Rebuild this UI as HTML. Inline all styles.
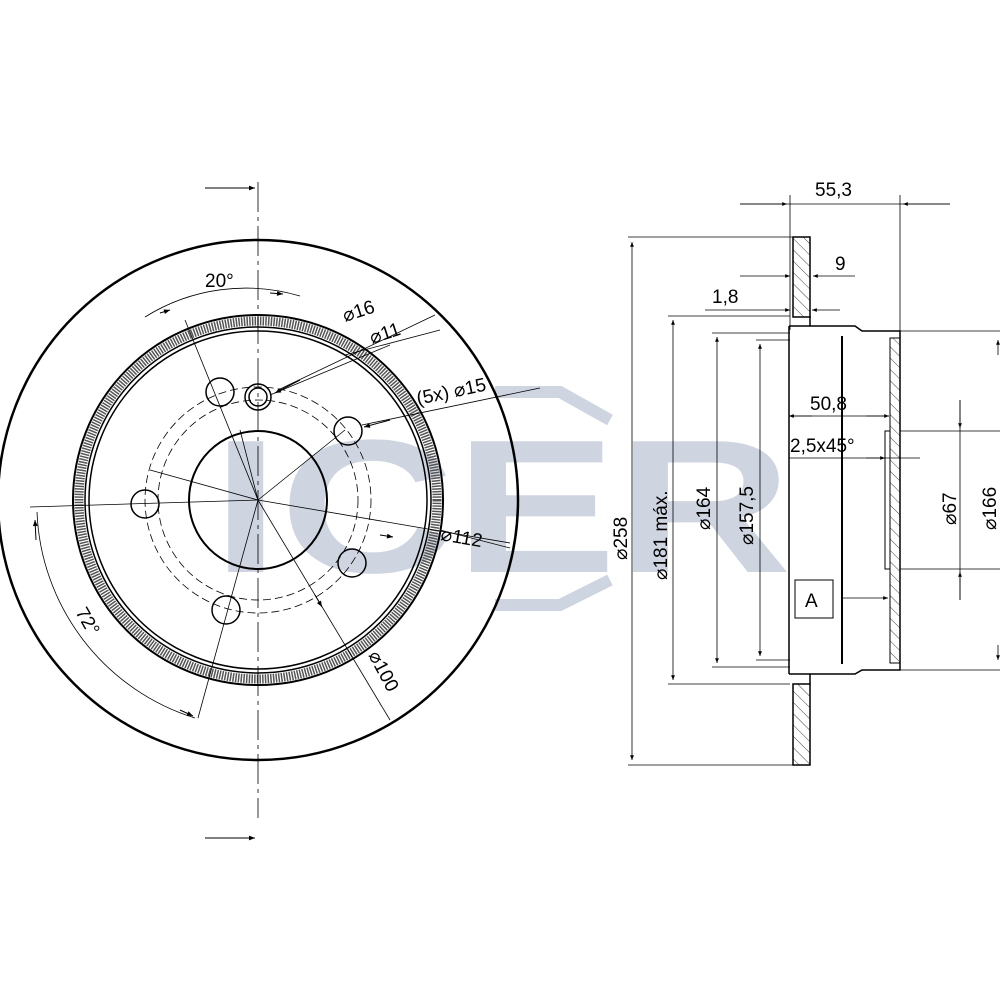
<!DOCTYPE html>
<html><head><style>html,body{margin:0;padding:0;background:#fff}svg{display:block}</style></head>
<body>
<svg width="1000" height="1000" viewBox="0 0 1000 1000" xmlns="http://www.w3.org/2000/svg" font-family="Liberation Sans, sans-serif">
<defs>
<marker id="a" viewBox="0 0 10 10" refX="10" refY="5" markerWidth="9" markerHeight="6" orient="auto-start-reverse"><path d="M0,1L10,5L0,9z" fill="#000"/></marker>
<pattern id="h" width="8" height="8" patternUnits="userSpaceOnUse" patternTransform="rotate(-45)"><line x1="0" y1="0" x2="0" y2="8" stroke="#444" stroke-width="1"/></pattern>
</defs>
<!-- watermark -->
<g fill="#cfd5e0">
<text x="212" y="572" font-size="190" font-weight="bold" textLength="580" lengthAdjust="spacingAndGlyphs">ICER</text>
</g>
<path d="M495,392 L560,392 L610,420 M495,605 L560,605 L610,580" stroke="#cfd5e0" stroke-width="12" fill="none"/>
<!-- front view -->
<g fill="none" stroke="#000">
<circle cx="258" cy="500" r="260" stroke-width="2.5"/>
<circle cx="258" cy="500" r="185" stroke-width="2"/>
<circle cx="258" cy="500" r="179" stroke="#555" stroke-width="9" stroke-dasharray="1.5 1.2"/>
<circle cx="258" cy="500" r="173" stroke-width="1.5"/>
<circle cx="258" cy="500" r="169" stroke-width="1.5"/>
<circle cx="258" cy="500" r="69" stroke-width="2"/>
<circle cx="258" cy="500" r="113" stroke-width="0.8" stroke-dasharray="8 4"/>
<circle cx="258" cy="500" r="100" stroke-width="0.8" stroke-dasharray="8 4"/>
<g stroke-width="1.5">
<circle cx="348" cy="431" r="14"/><circle cx="352" cy="563" r="14"/><circle cx="226" cy="610" r="14"/><circle cx="145" cy="504" r="14"/><circle cx="220" cy="392" r="14"/>
<circle cx="258" cy="397" r="13"/><circle cx="258" cy="397" r="9"/>
</g>
<g stroke-width="0.8">
<line x1="258" y1="182" x2="258" y2="818" stroke-dasharray="30 5 4 5"/>
<line x1="30" y1="507" x2="258" y2="500"/>
<line x1="258" y1="500" x2="510" y2="543"/>
<line x1="258" y1="500" x2="390" y2="720"/>
<line x1="258" y1="500" x2="185" y2="320"/>
<line x1="258" y1="500" x2="198" y2="718"/>
<line x1="258" y1="500" x2="150" y2="470"/>
<line x1="258" y1="500" x2="345" y2="430"/>
<line x1="258" y1="500" x2="240" y2="430"/>
<path d="M145,317 A190 190 0 0 1 300,296"/>
<path d="M37,512 A225 225 0 0 0 195,718"/>
<line x1="278" y1="390" x2="435" y2="315"/><line x1="345" y1="355" x2="440" y2="330"/>
<line x1="270" y1="395" x2="390" y2="345"/>
<line x1="362" y1="425" x2="540" y2="388"/>
<line x1="440" y1="530" x2="510" y2="548"/>
</g>
<g stroke-width="1">
<line x1="205" y1="188" x2="255" y2="188" marker-end="url(#a)"/>
<line x1="205" y1="838" x2="255" y2="838" marker-end="url(#a)"/>
<line x1="160" y1="313" x2="170" y2="310" marker-end="url(#a)"/>
<line x1="270" y1="293" x2="283" y2="294" marker-end="url(#a)"/>
<line x1="36" y1="540" x2="35" y2="520" marker-end="url(#a)"/>
<line x1="180" y1="710" x2="193" y2="716" marker-end="url(#a)"/>
<line x1="300" y1="380" x2="275" y2="393" marker-end="url(#a)"/>
<line x1="390" y1="420" x2="364" y2="427" marker-end="url(#a)"/>
<line x1="380" y1="535" x2="393" y2="537" marker-end="url(#a)"/>
<line x1="315" y1="595" x2="322" y2="607" marker-end="url(#a)"/>
</g>
</g>
<g font-size="19" fill="#000">
<text x="205" y="287">20°</text>
<text x="0" y="0" transform="translate(345,322) rotate(-18)">⌀16</text>
<text x="0" y="0" transform="translate(372,344) rotate(-18)">⌀11</text>
<text x="0" y="0" transform="translate(418,405) rotate(-12)">(5x) ⌀15</text>
<text x="0" y="0" transform="translate(440,540) rotate(10)">⌀112</text>
<text x="0" y="0" transform="translate(368,655) rotate(62)">⌀100</text>
<text x="0" y="0" transform="translate(75,612) rotate(60)">72°</text>
</g>
<!-- side view -->
<g fill="none" stroke="#000">
<rect x="793" y="237" width="17" height="80" fill="url(#h)" stroke-width="1.5"/>
<rect x="793" y="684" width="17" height="81" fill="url(#h)" stroke-width="1.5"/>
<path d="M810,316 L810,326 L855,326 L862,331 L900,331 L900,670 L862,670 L855,674 L810,674 L810,684" stroke-width="1.5"/>
<path d="M789,326 L789,674" stroke-width="1.5"/>
<path d="M789,326 L810,326 M789,674 L810,674" stroke-width="1.5"/>
<line x1="842" y1="336" x2="842" y2="664" stroke-width="2"/>
<rect x="890" y="338" width="10" height="325" fill="url(#h)" stroke-width="1"/>
<rect x="885" y="431" width="5" height="138" stroke-width="1"/>
<rect x="795" y="580" width="38" height="38" fill="#fff" stroke-width="1"/>
<g stroke-width="0.8">
<line x1="628" y1="237" x2="793" y2="237"/><line x1="628" y1="765" x2="793" y2="765"/>
<line x1="632" y1="242" x2="632" y2="760" marker-start="url(#a)" marker-end="url(#a)"/>
<line x1="668" y1="316" x2="790" y2="316"/><line x1="668" y1="684" x2="790" y2="684"/>
<line x1="673" y1="320" x2="673" y2="680" marker-start="url(#a)" marker-end="url(#a)"/>
<line x1="712" y1="333" x2="790" y2="333"/><line x1="712" y1="667" x2="790" y2="667"/>
<line x1="717" y1="337" x2="717" y2="663" marker-start="url(#a)" marker-end="url(#a)"/>
<line x1="756" y1="340" x2="790" y2="340"/><line x1="756" y1="660" x2="790" y2="660"/>
<line x1="760" y1="344" x2="760" y2="656" marker-start="url(#a)" marker-end="url(#a)"/>
<line x1="790" y1="195" x2="790" y2="330"/><line x1="900" y1="195" x2="900" y2="331"/>
<line x1="740" y1="204" x2="787" y2="204" marker-end="url(#a)"/>
<line x1="950" y1="204" x2="903" y2="204" marker-end="url(#a)"/>
<line x1="740" y1="204" x2="950" y2="204"/>
<line x1="740" y1="276" x2="790" y2="276" marker-end="url(#a)"/>
<line x1="855" y1="276" x2="813" y2="276" marker-end="url(#a)"/>
<line x1="705" y1="310" x2="790" y2="310" marker-end="url(#a)"/>
<line x1="840" y1="310" x2="812" y2="310" marker-end="url(#a)"/>
<line x1="789" y1="416" x2="812" y2="416" marker-start="url(#a)"/>
<line x1="866" y1="416" x2="889" y2="416" marker-end="url(#a)"/>
<line x1="789" y1="416" x2="889" y2="416"/>
<line x1="789" y1="458" x2="920" y2="458"/>
<line x1="866" y1="458" x2="885" y2="458" marker-end="url(#a)"/>
<line x1="900" y1="431" x2="1000" y2="431"/><line x1="900" y1="569" x2="1000" y2="569"/>
<line x1="900" y1="331" x2="1000" y2="331"/><line x1="900" y1="670" x2="1000" y2="670"/>
<line x1="960" y1="400" x2="960" y2="428" marker-end="url(#a)"/>
<line x1="960" y1="600" x2="960" y2="572" marker-end="url(#a)"/>
<line x1="960" y1="400" x2="960" y2="600"/>
<line x1="998" y1="340" x2="998" y2="355" marker-start="url(#a)"/>
<line x1="998" y1="645" x2="998" y2="660" marker-end="url(#a)"/>
<line x1="842" y1="598" x2="888" y2="598" marker-end="url(#a)"/>
</g>
</g>
<g font-size="19" fill="#000">
<text x="815" y="196">55,3</text>
<text x="835" y="270">9</text>
<text x="712" y="303">1,8</text>
<text x="810" y="410">50,8</text>
<text x="790" y="452">2,5x45°</text>
<text x="805" y="607">A</text>
<text transform="translate(627,560) rotate(-90)">⌀258</text>
<text transform="translate(667,580) rotate(-90)">⌀181 máx.</text>
<text transform="translate(710,530) rotate(-90)">⌀164</text>
<text transform="translate(753,545) rotate(-90)">⌀157,5</text>
<text transform="translate(956,525) rotate(-90)">⌀67</text>
<text transform="translate(996,530) rotate(-90)">⌀166</text>
</g>
</svg>
</body></html>
